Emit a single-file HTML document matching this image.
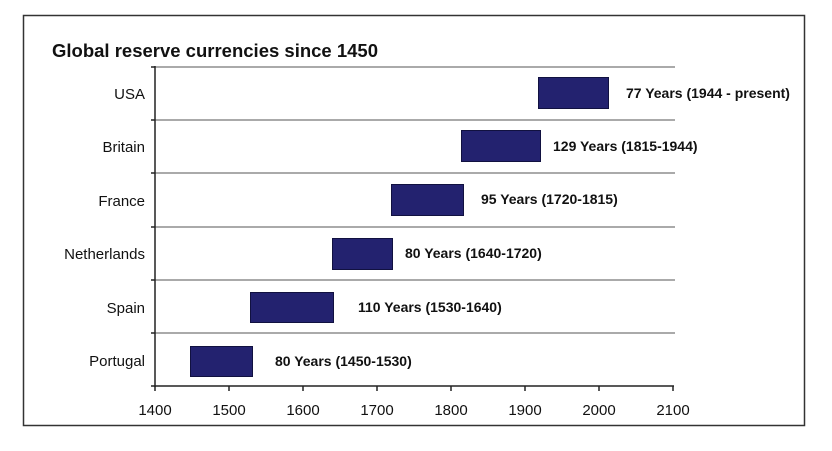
<!DOCTYPE html>
<html><head><style>body{margin:0;background:#fff}</style></head><body>
<svg width="832" height="446" xmlns="http://www.w3.org/2000/svg" font-family="Liberation Sans, sans-serif">
<rect x="0" y="0" width="832" height="446" fill="#fff"/>
<rect x="23.5" y="15.5" width="781" height="410" fill="none" stroke="#333" stroke-width="1.5"/>
<text x="52" y="57" font-size="18.5" font-weight="bold" fill="#111">Global reserve currencies since 1450</text>
<g stroke="#777" stroke-width="1.2">
<line x1="155" y1="67" x2="675" y2="67"/>
<line x1="155" y1="120" x2="675" y2="120"/>
<line x1="155" y1="173" x2="675" y2="173"/>
<line x1="155" y1="227" x2="675" y2="227"/>
<line x1="155" y1="280" x2="675" y2="280"/>
<line x1="155" y1="333" x2="675" y2="333"/>
</g>
<g stroke="#222" stroke-width="1.5">
<line x1="155" y1="66" x2="155" y2="387"/>
<line x1="155" y1="386" x2="674" y2="386"/>
<line x1="151" y1="67" x2="155" y2="67"/><line x1="151" y1="120" x2="155" y2="120"/>
<line x1="151" y1="173" x2="155" y2="173"/><line x1="151" y1="227" x2="155" y2="227"/>
<line x1="151" y1="280" x2="155" y2="280"/><line x1="151" y1="333" x2="155" y2="333"/>
<line x1="151" y1="386" x2="155" y2="386"/>
<line x1="155" y1="386" x2="155" y2="391"/><line x1="229" y1="386" x2="229" y2="391"/>
<line x1="303" y1="386" x2="303" y2="391"/><line x1="377" y1="386" x2="377" y2="391"/>
<line x1="451" y1="386" x2="451" y2="391"/><line x1="525" y1="386" x2="525" y2="391"/>
<line x1="599" y1="386" x2="599" y2="391"/><line x1="673" y1="386" x2="673" y2="391"/>
</g>
<g fill="#23226f" stroke="#111140" stroke-width="1">
<rect x="538.5" y="77.5" width="70" height="31"/>
<rect x="461.5" y="130.5" width="79" height="31"/>
<rect x="391.5" y="184.5" width="72" height="31"/>
<rect x="332.5" y="238.5" width="60" height="31"/>
<rect x="250.5" y="292.5" width="83" height="30"/>
<rect x="190.5" y="346.5" width="62" height="30"/>
</g>
<g font-size="15" text-anchor="end" fill="#111">
<text x="145" y="99">USA</text>
<text x="145" y="152">Britain</text>
<text x="145" y="206">France</text>
<text x="145" y="259">Netherlands</text>
<text x="145" y="313">Spain</text>
<text x="145" y="366">Portugal</text>
</g>
<g font-size="14" font-weight="bold" fill="#111">
<text x="626" y="98">77 Years (1944 - present)</text>
<text x="553" y="151">129 Years (1815-1944)</text>
<text x="481" y="204">95 Years (1720-1815)</text>
<text x="405" y="258">80 Years (1640-1720)</text>
<text x="358" y="312">110 Years (1530-1640)</text>
<text x="275" y="366">80 Years (1450-1530)</text>
</g>
<g font-size="15" text-anchor="middle" fill="#111">
<text x="155" y="415">1400</text><text x="229" y="415">1500</text>
<text x="303" y="415">1600</text><text x="377" y="415">1700</text>
<text x="451" y="415">1800</text><text x="525" y="415">1900</text>
<text x="599" y="415">2000</text><text x="673" y="415">2100</text>
</g>
</svg>
</body></html>
